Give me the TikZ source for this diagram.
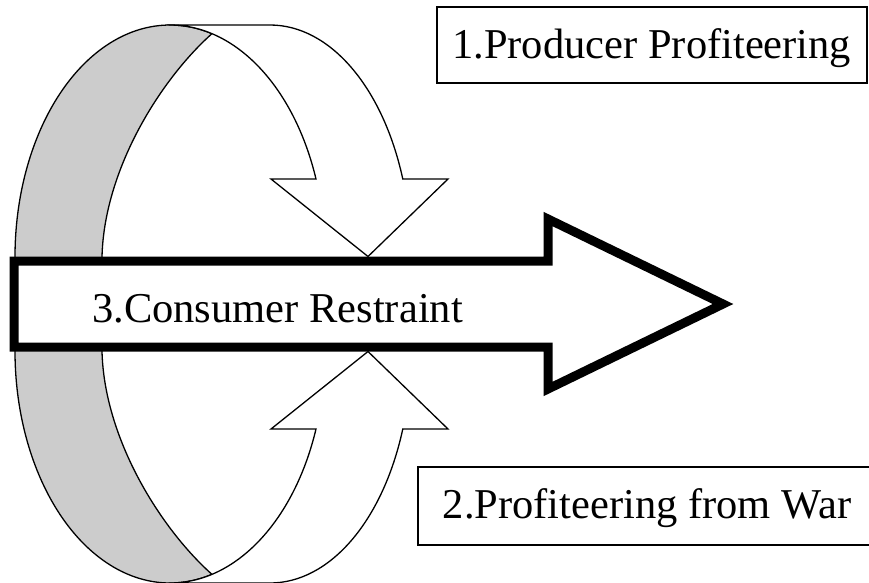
\documentclass[tikz,border=0pt]{standalone}
\usepackage{fontspec}
\setmainfont{Liberation Serif}
\newcommand*{\bigfont}{\fontsize{42.5}{48}\selectfont}

\begin{document}
\begin{tikzpicture}[x=1pt,y=-1pt,line join=miter,
      band back/.style={draw=black,fill=black!20,line width=1.3pt},
      band front/.style={draw=black,fill=white,line width=1.3pt},
      labelbox/.style={draw=black,line width=1.5pt,font=\bigfont,inner ysep=0pt}]
  \useasboundingbox (0,0) rectangle (869,582);
  \path[band back] (15,275) -- (15,257)
      arc[start angle=180, end angle=285.7, x radius=155, y radius=232]
      .. controls (160,80) and (104,170) .. (102,257) -- (102,275) -- cycle;
  \path[band front] (170,25) -- (270,25)
      arc[start angle=270, end angle=340.35, x radius=141, y radius=232]
      -- (448,179) -- (368,256.5) -- (271,179) -- (316,179)
      arc[start angle=340.35, end angle=270, x radius=155, y radius=232] -- cycle;
  \path[band back] (15,333) -- (15,351)
      arc[start angle=180, end angle=74.3, x radius=155, y radius=232]
      .. controls (160,528) and (104,438) .. (102,351) -- (102,333) -- cycle;
  \path[band front] (170,583) -- (270,583)
      arc[start angle=90, end angle=19.65, x radius=141, y radius=232]
      -- (448,429) -- (368,351.5) -- (271,429) -- (316,429)
      arc[start angle=19.65, end angle=90, x radius=155, y radius=232] -- cycle;
  \draw[line width=9pt,fill=white] (14,261) -- (548,261) -- (548,219) -- (723,304)
      -- (548,389) -- (548,347) -- (14,347) -- cycle;
  \node[font=\bigfont, anchor=base west, inner sep=0pt] (label_3) at (92,322) {3.Consumer Restraint};
  \node[labelbox, anchor=base west, inner xsep=0pt, minimum width=430pt,
      text height=51pt, text depth=25pt] (box_1) at (436,58) {1.Producer Profiteering};
  \node[labelbox, anchor=base west, inner xsep=25pt,
      text height=51pt, text depth=27pt] (box_2) at (417,518) {2.Profiteering from War};
\end{tikzpicture}
\end{document}
